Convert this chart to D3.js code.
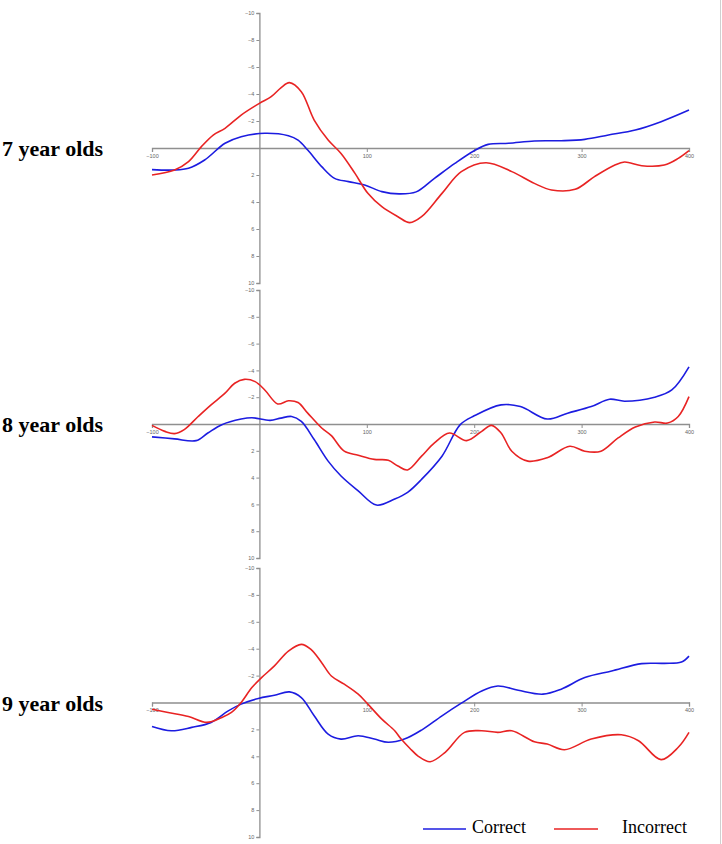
<!DOCTYPE html>
<html>
<head>
<meta charset="utf-8">
<script src="https://cdn.jsdelivr.net/npm/d3@7"></script>
<style>
  html, body { margin: 0; padding: 0; background: #fff; }
  svg { display: block; }
</style>
</head>
<body>
<script>
// ---------------- DATA ----------------
const ageGroups = ["7 year olds", "8 year olds", "9 year olds"];
const seriesNames = ["Correct", "Incorrect"];
const xTickValues = [-100, 100, 200, 300, 400];
const yTickValues = [-10, -8, -6, -4, -2, 2, 4, 6, 8, 10];

// [time (ms), amplitude] pairs
const age7Correct = [[-100,1.6],[-80,1.63],[-66,1.5],[-51,0.89],[-32,-0.35],[-17,-0.84],[5,-1.09],[27,-0.91],[36,-0.59],[45,0.15],[58,1.38],[70,2.25],[83,2.49],[98,2.74],[114,3.23],[130,3.4],[146,3.25],[163,2.25],[182,1.14],[200,0.2],[213,-0.27],[232,-0.35],[256,-0.52],[281,-0.54],[303,-0.64],[325,-0.96],[350,-1.33],[374,-1.95],[400,-2.81]];
const age7Incorrect = [[-100,2.0],[-79,1.63],[-66,1.01],[-54,-0.1],[-43,-0.96],[-32,-1.46],[-17,-2.44],[0,-3.31],[11,-3.8],[20,-4.45],[28,-4.84],[39,-4.17],[51,-2.07],[64,-0.59],[76,0.4],[89,1.88],[101,3.36],[114,4.35],[129,5.09],[140,5.53],[151,5.09],[170,3.36],[188,1.75],[211,1.09],[235,1.75],[256,2.62],[272,3.11],[294,3.06],[312,2.12],[331,1.26],[340,1.04],[356,1.31],[377,1.26],[390,0.77],[400,0.2]];
const age8Correct = [[-100,0.96],[-79,1.11],[-59,1.24],[-48,0.67],[-35,0.05],[-17,-0.37],[-7,-0.47],[10,-0.27],[20,-0.44],[30,-0.56],[39,-0.19],[51,1.16],[64,2.77],[76,3.88],[92,4.99],[109,6.05],[126,5.6],[138,5.1],[151,4.13],[170,2.4],[187,0.05],[200,-0.61],[225,-1.43],[243,-1.3],[268,-0.37],[287,-0.81],[309,-1.3],[326,-1.85],[340,-1.7],[368,-2.0],[384,-2.54],[400,-4.27]];
const age8Incorrect = [[-100,0.1],[-88,0.55],[-79,0.72],[-70,0.42],[-57,-0.56],[-45,-1.43],[-32,-2.3],[-23,-3.04],[-14,-3.33],[-4,-3.16],[5,-2.54],[17,-1.5],[27,-1.73],[36,-1.6],[45,-0.81],[58,0.3],[67,0.87],[79,2.03],[92,2.33],[107,2.64],[120,2.7],[129,3.14],[138,3.43],[151,2.4],[163,1.41],[177,0.67],[193,1.24],[207,0.55],[216,0.1],[225,0.67],[235,2.03],[250,2.77],[268,2.52],[289,1.66],[303,2.03],[318,2.03],[334,1.04],[350,0.22],[368,-0.15],[380,-0.07],[390,-0.56],[400,-2.04]];
const age9Correct = [[-100,1.78],[-82,2.1],[-63,1.85],[-45,1.48],[-29,0.62],[-17,0.12],[-1,-0.3],[14,-0.54],[28,-0.79],[39,-0.37],[51,0.99],[64,2.35],[76,2.72],[92,2.47],[107,2.72],[120,2.96],[135,2.72],[151,2.05],[170,0.99],[188,0.05],[207,-0.86],[222,-1.23],[241,-0.91],[264,-0.62],[281,-0.99],[303,-1.85],[328,-2.34],[356,-2.89],[377,-2.91],[393,-3.01],[400,-3.45]];
const age9Incorrect = [[-100,0.5],[-85,0.74],[-66,1.04],[-49,1.48],[-35,1.11],[-26,0.74],[-17,0],[-7,-1.11],[2,-1.85],[14,-2.72],[27,-3.82],[39,-4.32],[48,-3.95],[58,-2.96],[67,-1.97],[79,-1.36],[92,-0.62],[101,0.12],[114,1.24],[126,2.1],[132,2.72],[140,3.4],[148,4.0],[159,4.4],[173,3.7],[191,2.22],[207,2.1],[222,2.22],[235,2.1],[256,2.92],[268,3.09],[284,3.51],[309,2.72],[337,2.4],[353,2.84],[374,4.25],[390,3.33],[400,2.22]];

const panelSeries = [
  [age7Correct, age7Incorrect],
  [age8Correct, age8Incorrect],
  [age9Correct, age9Incorrect]
];

// ---------------- LAYOUT / STYLE ----------------
const W = 722, H = 844;
const colors = ["#1c1ce0", "#e82323"];
const panelBounds = [[13, 283], [290, 558], [568, 837]];

const svg = d3.select("body").append("svg")
  .attr("width", W).attr("height", H);

svg.append("rect").attr("width", W).attr("height", H).attr("fill", "#fff");
// right edge line of the original image
svg.append("line").attr("x1", 720.5).attr("x2", 720.5).attr("y1", 0).attr("y2", H)
  .attr("stroke", "#d0d0d0").attr("stroke-width", 1);

const x = d3.scaleLinear().domain([-100, 400]).range([152, 689]);

ageGroups.forEach((label, i) => {
  const [top, bottom] = panelBounds[i];
  const y = d3.scaleLinear().domain([-10, 10]).range([top, bottom]);
  const g = svg.append("g");

  // vertical axis at t = 0
  const yAxis = d3.axisLeft(y).tickValues(yTickValues).tickSize(3).tickPadding(2)
    .tickFormat(d3.format("d"));
  const ya = g.append("g").attr("transform", `translate(${x(0)},0)`).call(yAxis);
  ya.select(".domain").attr("stroke", "#8f8f8f").attr("stroke-width", 1.3);
  ya.selectAll(".tick line").attr("stroke", "#8f8f8f");
  ya.selectAll("text").attr("fill", "#666").style("font-size", "5.5px")
    .style("font-family", "Arial, 'Liberation Sans', sans-serif");

  // horizontal axis at amplitude 0
  const xAxis = d3.axisBottom(x).tickValues(xTickValues).tickSize(4).tickPadding(2)
    .tickFormat(d3.format("d"));
  const xa = g.append("g").attr("transform", `translate(0,${y(0)})`).call(xAxis);
  xa.select(".domain").attr("stroke", "#8f8f8f").attr("stroke-width", 1.3);
  xa.selectAll(".tick line").attr("stroke", "#8f8f8f");
  xa.selectAll("text").attr("fill", "#666").style("font-size", "5.5px")
    .style("font-family", "Arial, 'Liberation Sans', sans-serif");

  // lines
  const line = d3.line()
    .x(d => x(d[0])).y(d => y(d[1]))
    .curve(d3.curveCatmullRom.alpha(0.5));
  panelSeries[i].forEach((s, k) => {
    g.append("path").datum(s)
      .attr("d", line)
      .attr("fill", "none")
      .attr("stroke", colors[k])
      .attr("stroke-width", 1.6)
      .attr("stroke-linejoin", "round");
  });

  // group label
  g.append("text")
    .attr("x", 2).attr("y", y(0) + 8)
    .text(label)
    .style("font-family", "'Liberation Serif', 'Times New Roman', serif")
    .style("font-weight", "bold")
    .style("font-size", "22px")
    .attr("fill", "#000");
});

// legend
const legendItems = [
  { name: seriesNames[0], x1: 423, x2: 466, tx: 472 },
  { name: seriesNames[1], x1: 554, x2: 598, tx: 622 }
];
legendItems.forEach((it, k) => {
  svg.append("line").attr("x1", it.x1).attr("x2", it.x2).attr("y1", 829).attr("y2", 829)
    .attr("stroke", colors[k]).attr("stroke-width", 1.3);
  svg.append("text").attr("x", it.tx).attr("y", 833).text(it.name)
    .style("font-family", "'Liberation Serif', 'Times New Roman', serif")
    .style("font-size", "18px").attr("fill", "#000");
});
</script>
</body>
</html>
